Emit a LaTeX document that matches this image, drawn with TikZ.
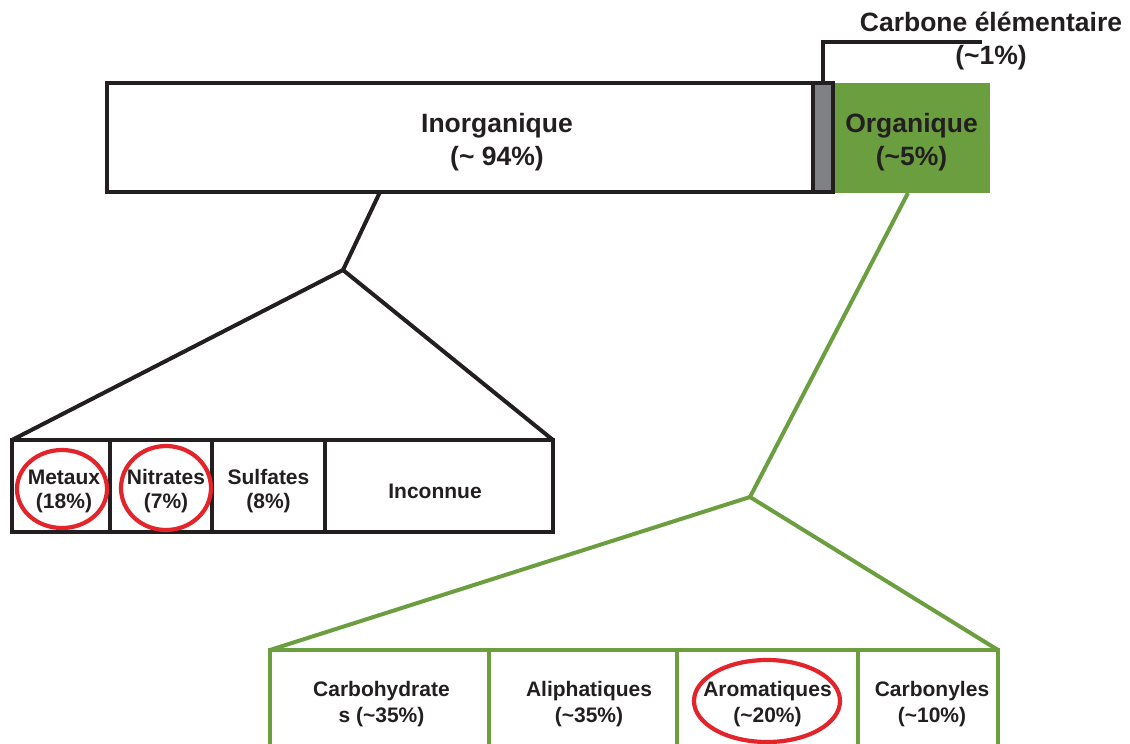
\documentclass[tikz,border=0pt]{standalone}
\usepackage{fontspec}
\setmainfont{Liberation Sans}
\usetikzlibrary{positioning,calc}
\definecolor{ink}{HTML}{231F20}
\definecolor{orggreen}{HTML}{6A9E3F}
\definecolor{elemgray}{HTML}{808184}
\definecolor{ringred}{HTML}{E3242B}
\begin{document}
\begin{tikzpicture}[x=1pt,y=-1pt,line width=4pt,
  lbl/.style={font=\bfseries\fontsize{21}{24}\selectfont,text=ink,align=center},
  glbl/.style={font=\bfseries\fontsize{21}{26}\selectfont,text=ink,align=center},
  big lbl/.style={font=\bfseries\fontsize{26.5}{32.5}\selectfont,text=ink,align=center},
  cell/.style={draw=ink,outer sep=0pt,inner sep=0pt,minimum height=92pt},
  gcell/.style={cell,draw=orggreen,minimum height=100pt},
  cell text/.style 2 args={label={[lbl,xshift=#1,yshift=-5pt]center:#2}},
  gcell text/.style 2 args={label={[glbl,xshift=#1,yshift=-4pt]center:#2}},
  ring/.style={draw=ringred,line width=4.2pt}]
\useasboundingbox (0,0) rectangle (1130,744);
\clip (0,0) rectangle (1130,744);
% top bar
\begin{scope}[every node/.style={outer sep=0pt,inner sep=0pt,minimum height=109pt}]
\node[fill=orggreen,minimum width=157pt,minimum height=110pt,
  label={[big lbl,yshift=-4pt]center:Organique\\(\textasciitilde5\%)}] (org) at (911.5,138) {};
\node[draw=ink,minimum width=706pt] (inorg) at (460,137.5) {};
\node[draw=ink,fill=elemgray,minimum width=20pt] (elem) at (823,137.5) {};
\end{scope}
\node[big lbl] (inorg-txt) at (497,142) {Inorganique\\(\textasciitilde{} 94\%)};
\node[big lbl] (elem-txt) at (991,41) {Carbone élémentaire\\(\textasciitilde1\%)};
\coordinate (elem-bend) at (823,42);
\coordinate (elem-end) at (982,42);
\draw[ink] (elem.north) -- (elem-bend) -- (elem-end);
% inorganic part
\node[cell,minimum width=98pt,cell text={3pt}{Metaux\\(18\%)}] (metaux) at (61,486) {};
\node[cell,minimum width=102pt,cell text={5pt}{Nitrates\\(7\%)}] (nitrates) at (161,486) {};
\node[cell,minimum width=113pt,cell text={0pt}{Sulfates\\(8\%)}] (sulfates) at (268.5,486) {};
\node[cell,minimum width=228pt,cell text={-4pt}{Inconnue}] (inconnue) at (439,486) {};
\coordinate (inorg-stem) at (380,192);
\coordinate (inorg-fork) at (343,270);
\begin{scope}[ink,line join=round]
\draw (inorg-stem) -- (inorg-fork);
\draw (inorg-fork) -- (metaux.north west);
\draw (inorg-fork) -- (inconnue.north east);
\end{scope}
% organic part
\node[gcell,minimum width=219pt,gcell text={2pt}{Carbohydrate\\s (\textasciitilde35\%)}] (carbo) at (379.5,700) {};
\node[gcell,minimum width=188pt,gcell text={6pt}{Aliphatiques\\(\textasciitilde35\%)}] (aliph) at (583,700) {};
\node[gcell,minimum width=181pt,gcell text={0pt}{Aromatiques\\(\textasciitilde20\%)}] (arom) at (767.5,700) {};
\node[gcell,minimum width=140pt,gcell text={4pt}{Carbonyles\\(\textasciitilde10\%)}] (carbonyl) at (928,700) {};
\coordinate (org-stem) at (908,193);
\coordinate (org-fork) at (750,497);
\begin{scope}[orggreen,line join=round]
\draw (org-stem) -- (org-fork);
\draw (org-fork) -- (carbo.north west);
\draw (org-fork) -- (carbonyl.north east);
\end{scope}
% highlights
\draw[ring] (62,489) ellipse [x radius=45pt,y radius=39pt];
\draw[ring] (166,488) ellipse [x radius=45pt,y radius=42pt];
\draw[ring] (767,701) ellipse [x radius=73pt,y radius=41pt];
\end{tikzpicture}
\end{document}
